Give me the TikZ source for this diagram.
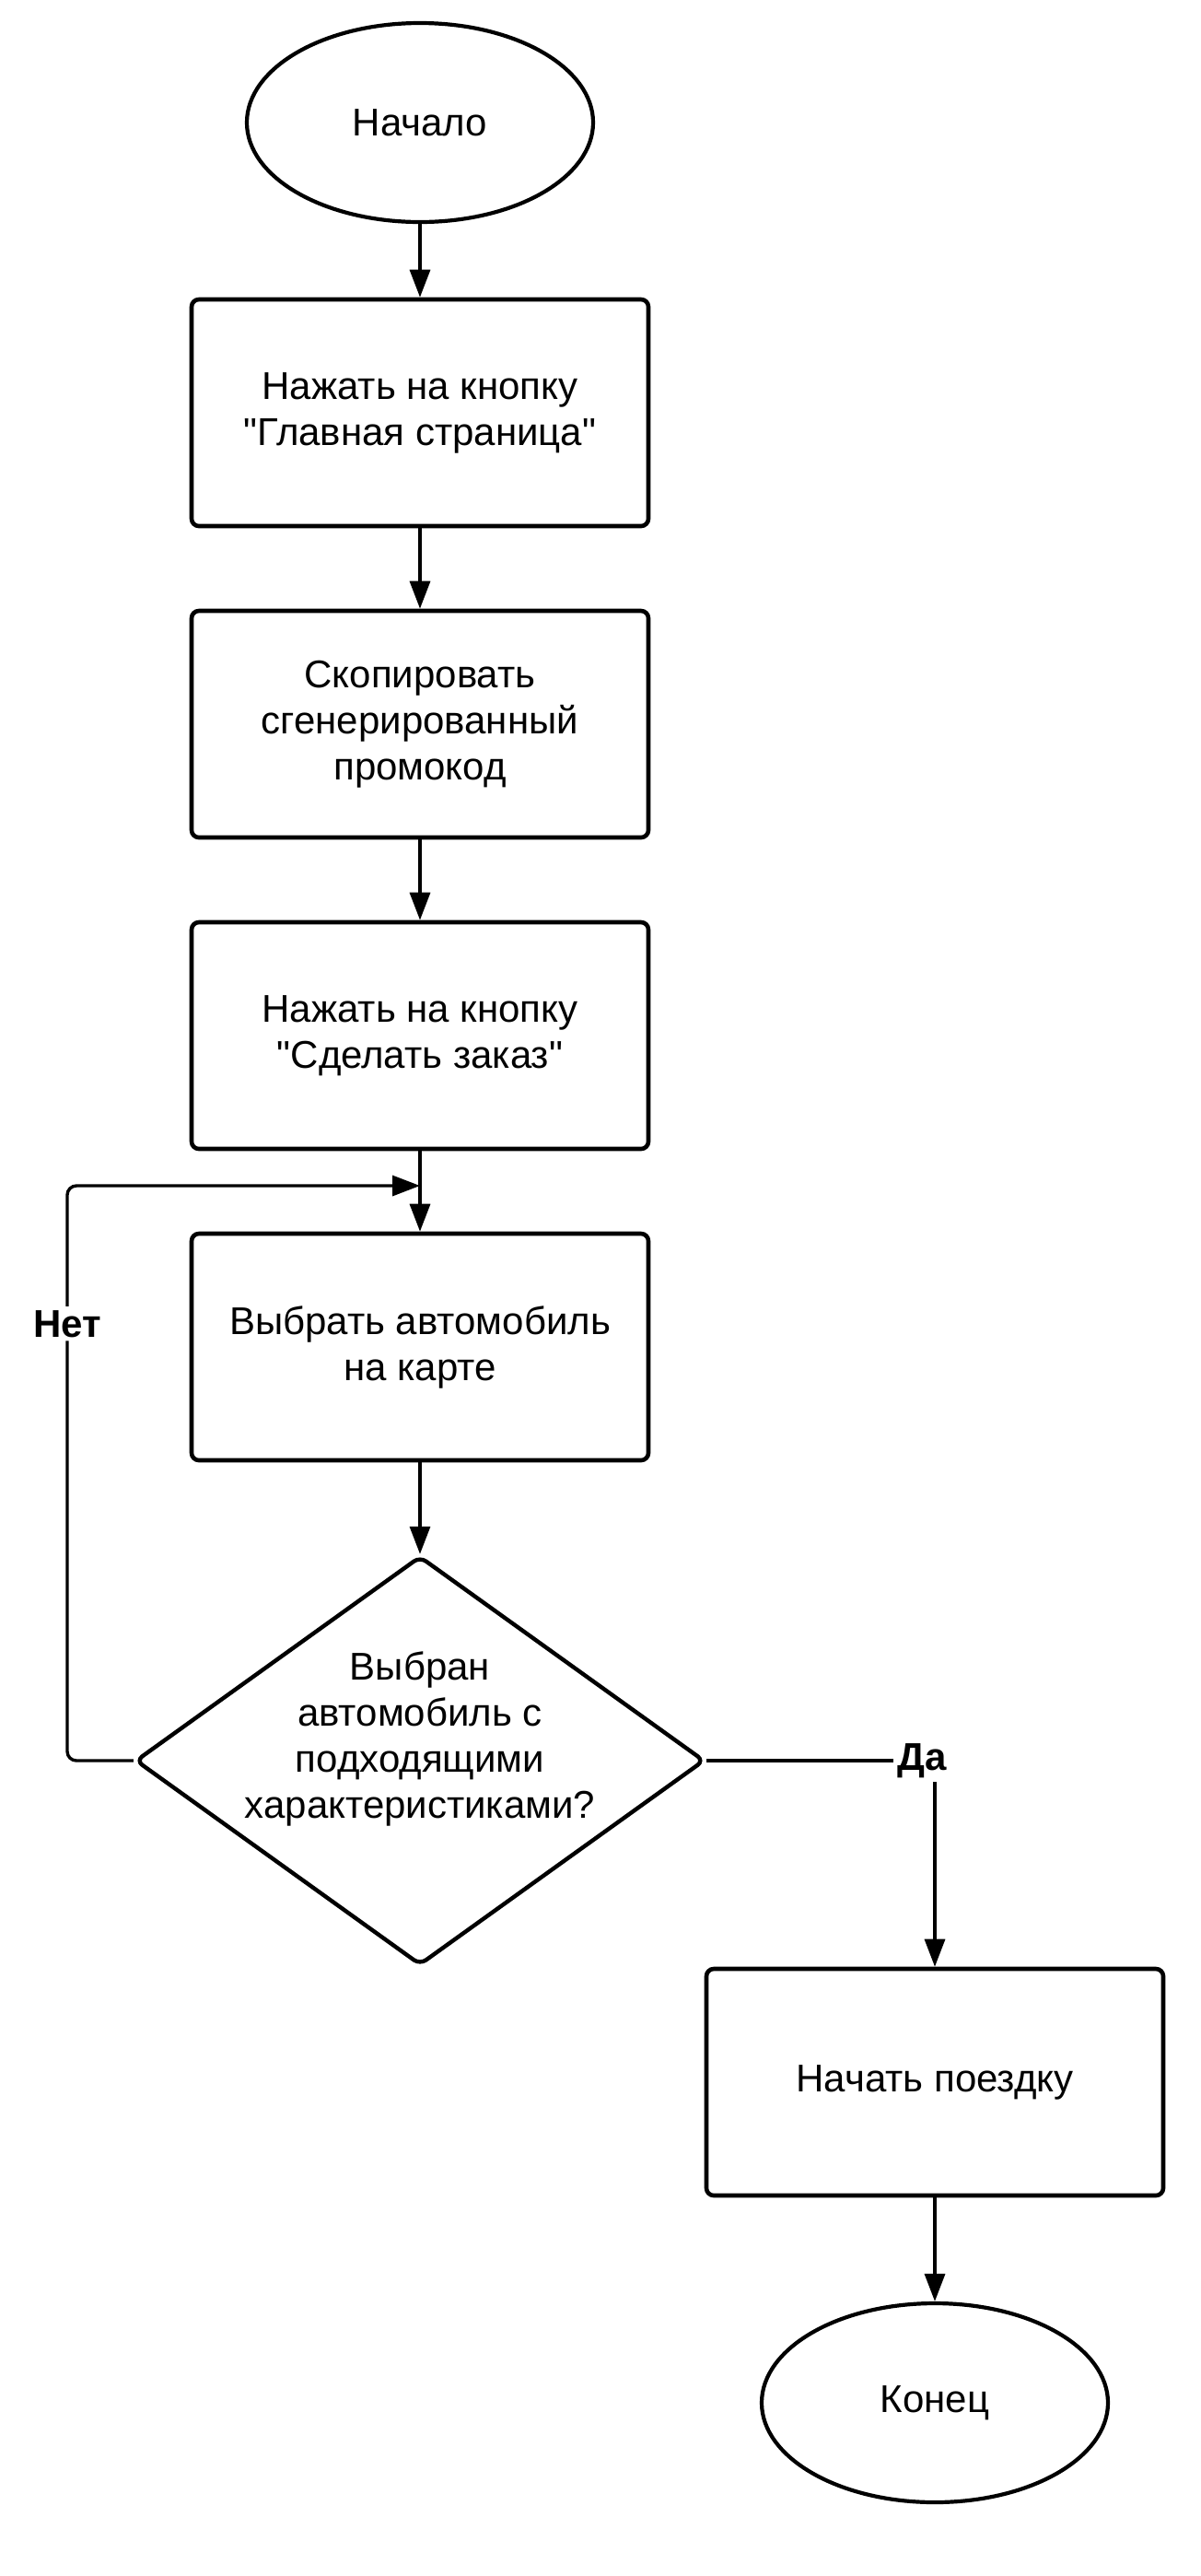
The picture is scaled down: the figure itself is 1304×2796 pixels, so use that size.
\documentclass[tikz,border=0pt]{standalone}
\usepackage{fontspec}
\setmainfont{Liberation Sans}[Ligatures=TeXOff]
\usetikzlibrary{shapes.geometric}
\usetikzlibrary{arrows.meta}

\tikzset{
    terminal/.style = {draw, ellipse, line width=2.1pt, minimum width=188pt, minimum height=108pt},
    process/.style  = {draw, rectangle, rounded corners=4pt, line width=2.3pt,
                       minimum width=248pt, minimum height=123pt, align=center},
    decision/.style = {draw, diamond, rounded corners=4pt, line width=2.2pt,
                       minimum width=309pt, minimum height=222pt, inner sep=0pt},
    flow/.style     = {line width=1.7pt, -{Triangle[length=15pt, width=11pt]}},
    answer/.style   = {fill=white, inner sep=2pt, font=\fontsize{21}{25}\selectfont\bfseries},
}

\begin{document}
\begin{tikzpicture}[x=0.5pt, y=-0.5pt, font=\fontsize{21}{25}\selectfont]
    \fill[white] (0,0) rectangle (1304,2796);
    \useasboundingbox (0,0) rectangle (1304,2796);

    \node (start)  at (456,133)   [terminal] {Начало};
    \node (home)   at (456,448)   [process]  {Нажать на кнопку\\"Главная страница"};
    \node (promo)  at (456,786)   [process]  {Скопировать\\сгенерированный\\промокод};
    \node (order)  at (456,1124)  [process]  {Нажать на кнопку\\"Сделать заказ"};
    \node (pick)   at (456,1462)  [process]  {Выбрать автомобиль\\на карте};
    \node (check)  at (456,1911)  [decision] {};
    \node (checktext) at ([yshift=12pt]check.center) [align=center]
        {Выбран\\автомобиль с\\подходящими\\характеристиками?};
    \node (ride)   at (1015,2260) [process]  {Начать поездку};
    \node (finish) at (1015,2608) [terminal] {Конец};

    \coordinate (merge) at (456,1287);
    \coordinate (loop)  at (73,1287);

    \draw[flow] (start) -- (home);
    \draw[flow] (home)  -- (promo);
    \draw[flow] (promo) -- (order);
    \draw[flow] (order) -- (pick);
    \draw[flow] (pick)  -- (check);
    \draw[flow, rounded corners=5pt] (check.west) -| node[answer, pos=0.88] {Нет} (loop) -- (merge);
    \draw[flow] (check.east) -| node[answer, pos=0.5, xshift=-7pt] {Да} (ride.north);
    \draw[flow] (ride)  -- (finish);
\end{tikzpicture}
\end{document}
